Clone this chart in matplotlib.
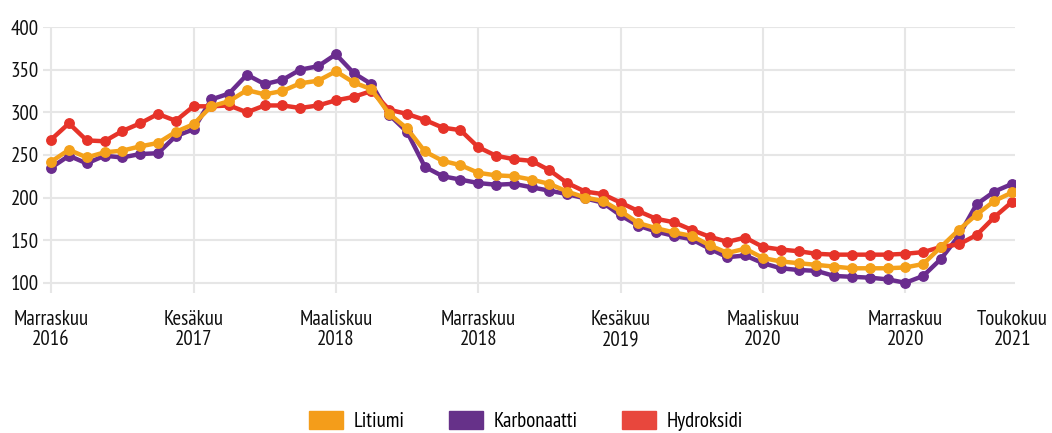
import matplotlib
matplotlib.use("Agg")
import matplotlib.pyplot as plt
from matplotlib.patches import Patch
from matplotlib import font_manager

fams = set(f.name for f in font_manager.fontManager.ttflist)
FONT = "DejaVu Sans"
for cand in ["Myriad Pro", "PT Sans Narrow", "Fira Sans Extra Condensed", "Roboto Condensed",
             "Archivo Narrow", "Liberation Sans Narrow"]:
    if cand in fams:
        FONT = cand
        break
plt.rcParams["font.family"] = [FONT, "DejaVu Sans"]

x_labels = ["Marraskuu\n2016", "Kesäkuu\n2017", "Maaliskuu\n2018", "Marraskuu\n2018",
            "Kesäkuu\n2019", "Maaliskuu\n2020", "Marraskuu\n2020", "Toukokuu\n2021"]
x_label_pos = [0, 8, 16, 24, 32, 40, 48, 54]

litiumi = [242, 256, 247, 253, 255, 260, 264, 277, 286, 307,
           313, 326, 321, 325, 334, 337, 348, 335, 327, 298,
           281, 254, 243, 238, 229, 226, 225, 221, 216, 207,
           200, 196, 184, 170, 164, 159, 155, 144, 135, 140,
           129, 125, 123, 121, 119, 117, 117, 117, 118, 122,
           142, 162, 180, 196, 206]
karbonaatti = [235, 249, 240, 249, 247, 251, 252, 272, 280, 315,
               322, 344, 333, 338, 350, 354, 368, 346, 333, 297,
               277, 236, 225, 221, 217, 215, 216, 212, 208, 204,
               199, 194, 179, 167, 160, 155, 151, 140, 130, 132,
               123, 117, 115, 114, 108, 107, 106, 104, 100, 108,
               128, 155, 192, 207, 216]
hydroksidi = [268, 287, 267, 266, 278, 287, 298, 290, 307, 307,
              308, 300, 308, 308, 305, 308, 314, 318, 325, 303,
              298, 291, 282, 279, 259, 249, 245, 243, 232, 217,
              207, 204, 194, 184, 175, 171, 162, 154, 148, 153,
              142, 139, 137, 134, 133, 133, 133, 133, 134, 136,
              142, 145, 156, 177, 195]

series_names = ["Litiumi", "Karbonaatti", "Hydroksidi"]
colors = ["#F4A11B", "#6A2C8E", "#E63329"]
legend_colors = ["#F49D1A", "#663189", "#E8473D"]

fig = plt.figure(figsize=(10.52, 4.33), dpi=100)
ax = fig.add_axes([0.041, 0.3233, 0.924, 0.6143])

xs = list(range(len(litiumi)))
data = [litiumi, karbonaatti, hydroksidi]
zorders = [5, 3, 4]
for vals, c, z in zip(data, colors, zorders):
    ax.plot(xs, vals, color=c, lw=3.2, marker="o", ms=6.8, mec=c, mfc=c,
            solid_joinstyle="round", zorder=z)

ax.set_xlim(-0.45, 54.17)
ax.set_ylim(88, 400)
ax.set_yticks([100, 150, 200, 250, 300, 350, 400])
for y in [100, 150, 200, 250, 300, 350, 400]:
    ax.axhline(y, color="#e6e6e6", lw=1.5, zorder=0)
for xv in [0, 8, 16, 24, 32, 40, 48]:
    ax.axvline(xv, color="#e6e6e6", lw=1.5, zorder=0)

ax.set_xticks(x_label_pos)
ax.set_xticklabels(x_labels, fontsize=15, linespacing=1.1)
ax.tick_params(axis="both", length=0, labelsize=15, colors="#111111")
ax.tick_params(axis="x", pad=12)
ax.tick_params(axis="y", pad=3)
for s in ax.spines.values():
    s.set_visible(False)

handles = [Patch(facecolor=c, edgecolor=c) for c in legend_colors]
fig.legend(handles, series_names, loc="center", bbox_to_anchor=(0.5, 0.027),
           ncol=3, frameon=False, fontsize=15, handlelength=1.63, handleheight=0.96,
           columnspacing=2.1, handletextpad=0.53)

fig.savefig("out.png", dpi=100)
